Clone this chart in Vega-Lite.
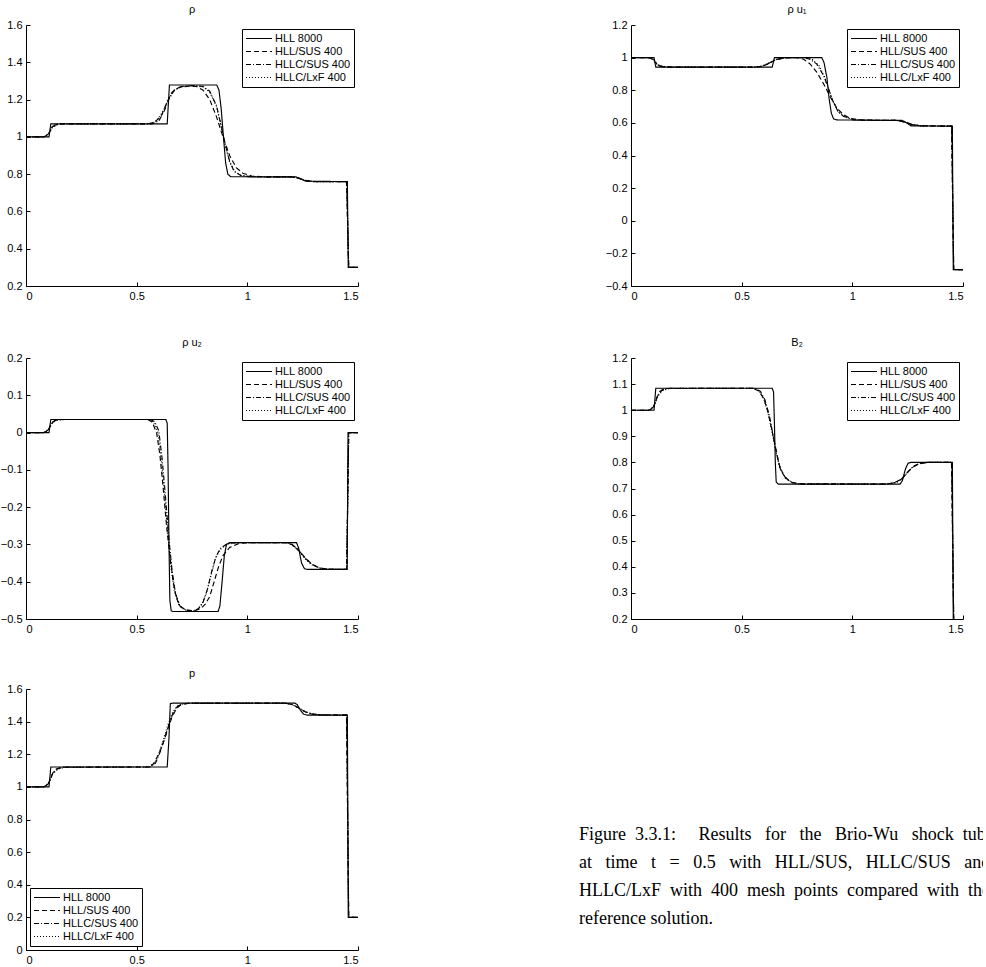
{
"$schema": "https://vega.github.io/schema/vega-lite/v6.json",
"padding": {"left": 0, "top": 4, "right": 0, "bottom": 0},
"config": {
 "view": {"stroke": null},
 "font": "Liberation Sans",
 "numberFormat": "~g",
 "axis": {"domainColor": "black", "tickColor": "black", "labelColor": "black", "labelFontSize": 11, "labelFont": "Liberation Sans", "grid": false, "tickSize": -4, "labelPadding": 8, "domainWidth": 1, "tickWidth": 1},
 "title": {"font": "Liberation Sans", "fontSize": 11, "fontWeight": "normal", "offset": 4, "color": "black"},
 "legend": {"strokeColor": "black", "fillColor": "white", "padding": 3, "labelFont": "Liberation Sans", "labelFontSize": 11, "labelColor": "black", "symbolType": "stroke", "symbolSize": 676, "symbolStrokeWidth": 1.1, "symbolStrokeColor": "black", "clipHeight": 13, "rowPadding": 0, "labelOffset": 2, "offset": 4, "title": null, "cornerRadius": 0},
 "line": {"color": "black", "strokeWidth": 1.15}
},
"datasets": {
"rho": [
{"s":"HLL 8000","x":0,"y":1.0},{"s":"HLL 8000","x":0.104,"y":1.0},{"s":"HLL 8000","x":0.112,"y":1.07},{"s":"HLL 8000","x":0.638,"y":1.07},{"s":"HLL 8000","x":0.648,"y":1.278},{"s":"HLL 8000","x":0.862,"y":1.278},{"s":"HLL 8000","x":0.872,"y":1.25},{"s":"HLL 8000","x":0.882,"y":1.15},{"s":"HLL 8000","x":0.892,"y":1.0},{"s":"HLL 8000","x":0.902,"y":0.86},{"s":"HLL 8000","x":0.912,"y":0.8},{"s":"HLL 8000","x":0.925,"y":0.786},{"s":"HLL 8000","x":1.22,"y":0.785},{"s":"HLL 8000","x":1.24,"y":0.775},{"s":"HLL 8000","x":1.265,"y":0.762},{"s":"HLL 8000","x":1.452,"y":0.76},{"s":"HLL 8000","x":1.456,"y":0.3},{"s":"HLL 8000","x":1.5,"y":0.3},
{"s":"HLL/SUS 400","x":0,"y":1.0},{"s":"HLL/SUS 400","x":0.08,"y":1.0},{"s":"HLL/SUS 400","x":0.1,"y":1.01},{"s":"HLL/SUS 400","x":0.115,"y":1.045},{"s":"HLL/SUS 400","x":0.13,"y":1.063},{"s":"HLL/SUS 400","x":0.16,"y":1.07},{"s":"HLL/SUS 400","x":0.55,"y":1.07},{"s":"HLL/SUS 400","x":0.58,"y":1.078},{"s":"HLL/SUS 400","x":0.61,"y":1.11},{"s":"HLL/SUS 400","x":0.635,"y":1.18},{"s":"HLL/SUS 400","x":0.66,"y":1.24},{"s":"HLL/SUS 400","x":0.69,"y":1.265},{"s":"HLL/SUS 400","x":0.74,"y":1.272},{"s":"HLL/SUS 400","x":0.77,"y":1.27},{"s":"HLL/SUS 400","x":0.8,"y":1.25},{"s":"HLL/SUS 400","x":0.83,"y":1.2},{"s":"HLL/SUS 400","x":0.86,"y":1.11},{"s":"HLL/SUS 400","x":0.89,"y":1.0},{"s":"HLL/SUS 400","x":0.92,"y":0.9},{"s":"HLL/SUS 400","x":0.95,"y":0.835},{"s":"HLL/SUS 400","x":0.98,"y":0.805},{"s":"HLL/SUS 400","x":1.02,"y":0.79},{"s":"HLL/SUS 400","x":1.08,"y":0.785},{"s":"HLL/SUS 400","x":1.2,"y":0.785},{"s":"HLL/SUS 400","x":1.23,"y":0.78},{"s":"HLL/SUS 400","x":1.26,"y":0.767},{"s":"HLL/SUS 400","x":1.3,"y":0.76},{"s":"HLL/SUS 400","x":1.448,"y":0.76},{"s":"HLL/SUS 400","x":1.458,"y":0.3},{"s":"HLL/SUS 400","x":1.5,"y":0.3},
{"s":"HLLC/SUS 400","x":0,"y":1.0},{"s":"HLLC/SUS 400","x":0.085,"y":1.0},{"s":"HLLC/SUS 400","x":0.105,"y":1.02},{"s":"HLLC/SUS 400","x":0.118,"y":1.055},{"s":"HLLC/SUS 400","x":0.14,"y":1.068},{"s":"HLLC/SUS 400","x":0.17,"y":1.07},{"s":"HLLC/SUS 400","x":0.57,"y":1.07},{"s":"HLLC/SUS 400","x":0.6,"y":1.085},{"s":"HLLC/SUS 400","x":0.625,"y":1.14},{"s":"HLLC/SUS 400","x":0.645,"y":1.2},{"s":"HLLC/SUS 400","x":0.67,"y":1.25},{"s":"HLLC/SUS 400","x":0.7,"y":1.27},{"s":"HLLC/SUS 400","x":0.75,"y":1.275},{"s":"HLLC/SUS 400","x":0.8,"y":1.27},{"s":"HLLC/SUS 400","x":0.83,"y":1.245},{"s":"HLLC/SUS 400","x":0.86,"y":1.17},{"s":"HLLC/SUS 400","x":0.88,"y":1.07},{"s":"HLLC/SUS 400","x":0.9,"y":0.96},{"s":"HLLC/SUS 400","x":0.92,"y":0.87},{"s":"HLLC/SUS 400","x":0.94,"y":0.815},{"s":"HLLC/SUS 400","x":0.97,"y":0.793},{"s":"HLLC/SUS 400","x":1.02,"y":0.786},{"s":"HLLC/SUS 400","x":1.2,"y":0.785},{"s":"HLLC/SUS 400","x":1.23,"y":0.779},{"s":"HLLC/SUS 400","x":1.26,"y":0.766},{"s":"HLLC/SUS 400","x":1.3,"y":0.76},{"s":"HLLC/SUS 400","x":1.449,"y":0.76},{"s":"HLLC/SUS 400","x":1.458,"y":0.3},{"s":"HLLC/SUS 400","x":1.5,"y":0.3},
{"s":"HLLC/LxF 400","x":0,"y":1.0},{"s":"HLLC/LxF 400","x":0.08,"y":1.0},{"s":"HLLC/LxF 400","x":0.1,"y":1.015},{"s":"HLLC/LxF 400","x":0.12,"y":1.05},{"s":"HLLC/LxF 400","x":0.145,"y":1.067},{"s":"HLLC/LxF 400","x":0.18,"y":1.07},{"s":"HLLC/LxF 400","x":0.56,"y":1.07},{"s":"HLLC/LxF 400","x":0.59,"y":1.085},{"s":"HLLC/LxF 400","x":0.62,"y":1.14},{"s":"HLLC/LxF 400","x":0.645,"y":1.205},{"s":"HLLC/LxF 400","x":0.67,"y":1.25},{"s":"HLLC/LxF 400","x":0.7,"y":1.268},{"s":"HLLC/LxF 400","x":0.75,"y":1.275},{"s":"HLLC/LxF 400","x":0.8,"y":1.268},{"s":"HLLC/LxF 400","x":0.83,"y":1.24},{"s":"HLLC/LxF 400","x":0.86,"y":1.165},{"s":"HLLC/LxF 400","x":0.88,"y":1.065},{"s":"HLLC/LxF 400","x":0.9,"y":0.955},{"s":"HLLC/LxF 400","x":0.92,"y":0.865},{"s":"HLLC/LxF 400","x":0.945,"y":0.812},{"s":"HLLC/LxF 400","x":0.975,"y":0.792},{"s":"HLLC/LxF 400","x":1.02,"y":0.786},{"s":"HLLC/LxF 400","x":1.2,"y":0.785},{"s":"HLLC/LxF 400","x":1.23,"y":0.778},{"s":"HLLC/LxF 400","x":1.265,"y":0.765},{"s":"HLLC/LxF 400","x":1.31,"y":0.76},{"s":"HLLC/LxF 400","x":1.449,"y":0.76},{"s":"HLLC/LxF 400","x":1.458,"y":0.3},{"s":"HLLC/LxF 400","x":1.5,"y":0.3}
],
"rhou1": [
{"s":"HLL 8000","x":0,"y":1.0},{"s":"HLL 8000","x":0.104,"y":1.0},{"s":"HLL 8000","x":0.112,"y":0.942},{"s":"HLL 8000","x":0.638,"y":0.942},{"s":"HLL 8000","x":0.648,"y":1.0},{"s":"HLL 8000","x":0.862,"y":1.0},{"s":"HLL 8000","x":0.872,"y":0.97},{"s":"HLL 8000","x":0.885,"y":0.88},{"s":"HLL 8000","x":0.895,"y":0.75},{"s":"HLL 8000","x":0.905,"y":0.66},{"s":"HLL 8000","x":0.915,"y":0.625},{"s":"HLL 8000","x":0.93,"y":0.618},{"s":"HLL 8000","x":1.225,"y":0.615},{"s":"HLL 8000","x":1.245,"y":0.6},{"s":"HLL 8000","x":1.265,"y":0.582},{"s":"HLL 8000","x":1.452,"y":0.58},{"s":"HLL 8000","x":1.456,"y":-0.3},{"s":"HLL 8000","x":1.5,"y":-0.3},
{"s":"HLL/SUS 400","x":0,"y":1.0},{"s":"HLL/SUS 400","x":0.08,"y":1.0},{"s":"HLL/SUS 400","x":0.1,"y":0.99},{"s":"HLL/SUS 400","x":0.115,"y":0.962},{"s":"HLL/SUS 400","x":0.13,"y":0.948},{"s":"HLL/SUS 400","x":0.16,"y":0.942},{"s":"HLL/SUS 400","x":0.56,"y":0.942},{"s":"HLL/SUS 400","x":0.59,"y":0.946},{"s":"HLL/SUS 400","x":0.62,"y":0.962},{"s":"HLL/SUS 400","x":0.65,"y":0.985},{"s":"HLL/SUS 400","x":0.69,"y":0.998},{"s":"HLL/SUS 400","x":0.75,"y":1.0},{"s":"HLL/SUS 400","x":0.78,"y":0.99},{"s":"HLL/SUS 400","x":0.81,"y":0.96},{"s":"HLL/SUS 400","x":0.84,"y":0.91},{"s":"HLL/SUS 400","x":0.87,"y":0.84},{"s":"HLL/SUS 400","x":0.9,"y":0.76},{"s":"HLL/SUS 400","x":0.93,"y":0.69},{"s":"HLL/SUS 400","x":0.96,"y":0.65},{"s":"HLL/SUS 400","x":0.99,"y":0.628},{"s":"HLL/SUS 400","x":1.04,"y":0.618},{"s":"HLL/SUS 400","x":1.2,"y":0.615},{"s":"HLL/SUS 400","x":1.24,"y":0.605},{"s":"HLL/SUS 400","x":1.27,"y":0.59},{"s":"HLL/SUS 400","x":1.31,"y":0.582},{"s":"HLL/SUS 400","x":1.448,"y":0.58},{"s":"HLL/SUS 400","x":1.458,"y":-0.3},{"s":"HLL/SUS 400","x":1.5,"y":-0.3},
{"s":"HLLC/SUS 400","x":0,"y":1.0},{"s":"HLLC/SUS 400","x":0.085,"y":1.0},{"s":"HLLC/SUS 400","x":0.105,"y":0.985},{"s":"HLLC/SUS 400","x":0.12,"y":0.955},{"s":"HLLC/SUS 400","x":0.14,"y":0.945},{"s":"HLLC/SUS 400","x":0.17,"y":0.942},{"s":"HLLC/SUS 400","x":0.57,"y":0.942},{"s":"HLLC/SUS 400","x":0.6,"y":0.95},{"s":"HLLC/SUS 400","x":0.63,"y":0.97},{"s":"HLLC/SUS 400","x":0.66,"y":0.99},{"s":"HLLC/SUS 400","x":0.7,"y":0.999},{"s":"HLLC/SUS 400","x":0.78,"y":1.0},{"s":"HLLC/SUS 400","x":0.81,"y":0.99},{"s":"HLLC/SUS 400","x":0.84,"y":0.96},{"s":"HLLC/SUS 400","x":0.87,"y":0.89},{"s":"HLLC/SUS 400","x":0.89,"y":0.82},{"s":"HLLC/SUS 400","x":0.91,"y":0.74},{"s":"HLLC/SUS 400","x":0.935,"y":0.67},{"s":"HLLC/SUS 400","x":0.96,"y":0.64},{"s":"HLLC/SUS 400","x":1.0,"y":0.622},{"s":"HLLC/SUS 400","x":1.05,"y":0.616},{"s":"HLLC/SUS 400","x":1.2,"y":0.615},{"s":"HLLC/SUS 400","x":1.24,"y":0.604},{"s":"HLLC/SUS 400","x":1.27,"y":0.589},{"s":"HLLC/SUS 400","x":1.31,"y":0.581},{"s":"HLLC/SUS 400","x":1.449,"y":0.58},{"s":"HLLC/SUS 400","x":1.458,"y":-0.3},{"s":"HLLC/SUS 400","x":1.5,"y":-0.3},
{"s":"HLLC/LxF 400","x":0,"y":1.0},{"s":"HLLC/LxF 400","x":0.08,"y":1.0},{"s":"HLLC/LxF 400","x":0.1,"y":0.988},{"s":"HLLC/LxF 400","x":0.12,"y":0.958},{"s":"HLLC/LxF 400","x":0.145,"y":0.946},{"s":"HLLC/LxF 400","x":0.18,"y":0.942},{"s":"HLLC/LxF 400","x":0.56,"y":0.942},{"s":"HLLC/LxF 400","x":0.59,"y":0.948},{"s":"HLLC/LxF 400","x":0.62,"y":0.966},{"s":"HLLC/LxF 400","x":0.65,"y":0.987},{"s":"HLLC/LxF 400","x":0.69,"y":0.998},{"s":"HLLC/LxF 400","x":0.79,"y":1.0},{"s":"HLLC/LxF 400","x":0.82,"y":0.988},{"s":"HLLC/LxF 400","x":0.85,"y":0.95},{"s":"HLLC/LxF 400","x":0.875,"y":0.88},{"s":"HLLC/LxF 400","x":0.895,"y":0.8},{"s":"HLLC/LxF 400","x":0.915,"y":0.725},{"s":"HLLC/LxF 400","x":0.94,"y":0.665},{"s":"HLLC/LxF 400","x":0.965,"y":0.637},{"s":"HLLC/LxF 400","x":1.0,"y":0.622},{"s":"HLLC/LxF 400","x":1.05,"y":0.616},{"s":"HLLC/LxF 400","x":1.2,"y":0.615},{"s":"HLLC/LxF 400","x":1.24,"y":0.603},{"s":"HLLC/LxF 400","x":1.275,"y":0.587},{"s":"HLLC/LxF 400","x":1.32,"y":0.581},{"s":"HLLC/LxF 400","x":1.449,"y":0.58},{"s":"HLLC/LxF 400","x":1.458,"y":-0.3},{"s":"HLLC/LxF 400","x":1.5,"y":-0.3}
],
"rhou2": [
{"s":"HLL 8000","x":0,"y":0},{"s":"HLL 8000","x":0.104,"y":0},{"s":"HLL 8000","x":0.112,"y":0.035},{"s":"HLL 8000","x":0.632,"y":0.035},{"s":"HLL 8000","x":0.638,"y":0.025},{"s":"HLL 8000","x":0.642,"y":-0.1},{"s":"HLL 8000","x":0.646,"y":-0.3},{"s":"HLL 8000","x":0.65,"y":-0.45},{"s":"HLL 8000","x":0.656,"y":-0.478},{"s":"HLL 8000","x":0.665,"y":-0.48},{"s":"HLL 8000","x":0.868,"y":-0.48},{"s":"HLL 8000","x":0.876,"y":-0.465},{"s":"HLL 8000","x":0.886,"y":-0.4},{"s":"HLL 8000","x":0.896,"y":-0.33},{"s":"HLL 8000","x":0.906,"y":-0.3},{"s":"HLL 8000","x":0.92,"y":-0.295},{"s":"HLL 8000","x":1.222,"y":-0.295},{"s":"HLL 8000","x":1.232,"y":-0.31},{"s":"HLL 8000","x":1.245,"y":-0.35},{"s":"HLL 8000","x":1.258,"y":-0.365},{"s":"HLL 8000","x":1.27,"y":-0.367},{"s":"HLL 8000","x":1.451,"y":-0.367},{"s":"HLL 8000","x":1.455,"y":0},{"s":"HLL 8000","x":1.5,"y":0},
{"s":"HLL/SUS 400","x":0,"y":0},{"s":"HLL/SUS 400","x":0.08,"y":0},{"s":"HLL/SUS 400","x":0.1,"y":0.005},{"s":"HLL/SUS 400","x":0.115,"y":0.025},{"s":"HLL/SUS 400","x":0.13,"y":0.032},{"s":"HLL/SUS 400","x":0.16,"y":0.035},{"s":"HLL/SUS 400","x":0.55,"y":0.035},{"s":"HLL/SUS 400","x":0.57,"y":0.028},{"s":"HLL/SUS 400","x":0.59,"y":0.0},{"s":"HLL/SUS 400","x":0.605,"y":-0.06},{"s":"HLL/SUS 400","x":0.62,"y":-0.15},{"s":"HLL/SUS 400","x":0.635,"y":-0.25},{"s":"HLL/SUS 400","x":0.65,"y":-0.33},{"s":"HLL/SUS 400","x":0.665,"y":-0.4},{"s":"HLL/SUS 400","x":0.68,"y":-0.445},{"s":"HLL/SUS 400","x":0.7,"y":-0.468},{"s":"HLL/SUS 400","x":0.73,"y":-0.477},{"s":"HLL/SUS 400","x":0.76,"y":-0.478},{"s":"HLL/SUS 400","x":0.79,"y":-0.472},{"s":"HLL/SUS 400","x":0.81,"y":-0.46},{"s":"HLL/SUS 400","x":0.83,"y":-0.44},{"s":"HLL/SUS 400","x":0.85,"y":-0.4},{"s":"HLL/SUS 400","x":0.87,"y":-0.36},{"s":"HLL/SUS 400","x":0.89,"y":-0.33},{"s":"HLL/SUS 400","x":0.92,"y":-0.308},{"s":"HLL/SUS 400","x":0.96,"y":-0.298},{"s":"HLL/SUS 400","x":1.0,"y":-0.295},{"s":"HLL/SUS 400","x":1.17,"y":-0.295},{"s":"HLL/SUS 400","x":1.2,"y":-0.3},{"s":"HLL/SUS 400","x":1.23,"y":-0.315},{"s":"HLL/SUS 400","x":1.26,"y":-0.335},{"s":"HLL/SUS 400","x":1.29,"y":-0.352},{"s":"HLL/SUS 400","x":1.32,"y":-0.362},{"s":"HLL/SUS 400","x":1.36,"y":-0.366},{"s":"HLL/SUS 400","x":1.449,"y":-0.367},{"s":"HLL/SUS 400","x":1.458,"y":0},{"s":"HLL/SUS 400","x":1.5,"y":0},
{"s":"HLLC/SUS 400","x":0,"y":0},{"s":"HLLC/SUS 400","x":0.085,"y":0},{"s":"HLLC/SUS 400","x":0.105,"y":0.01},{"s":"HLLC/SUS 400","x":0.12,"y":0.028},{"s":"HLLC/SUS 400","x":0.14,"y":0.034},{"s":"HLLC/SUS 400","x":0.17,"y":0.035},{"s":"HLLC/SUS 400","x":0.56,"y":0.035},{"s":"HLLC/SUS 400","x":0.58,"y":0.03},{"s":"HLLC/SUS 400","x":0.6,"y":0.005},{"s":"HLLC/SUS 400","x":0.615,"y":-0.07},{"s":"HLLC/SUS 400","x":0.63,"y":-0.17},{"s":"HLLC/SUS 400","x":0.645,"y":-0.28},{"s":"HLLC/SUS 400","x":0.66,"y":-0.37},{"s":"HLLC/SUS 400","x":0.675,"y":-0.43},{"s":"HLLC/SUS 400","x":0.695,"y":-0.465},{"s":"HLLC/SUS 400","x":0.72,"y":-0.476},{"s":"HLLC/SUS 400","x":0.76,"y":-0.478},{"s":"HLLC/SUS 400","x":0.78,"y":-0.472},{"s":"HLLC/SUS 400","x":0.8,"y":-0.455},{"s":"HLLC/SUS 400","x":0.82,"y":-0.42},{"s":"HLLC/SUS 400","x":0.84,"y":-0.37},{"s":"HLLC/SUS 400","x":0.86,"y":-0.33},{"s":"HLLC/SUS 400","x":0.88,"y":-0.31},{"s":"HLLC/SUS 400","x":0.91,"y":-0.298},{"s":"HLLC/SUS 400","x":0.95,"y":-0.295},{"s":"HLLC/SUS 400","x":1.17,"y":-0.295},{"s":"HLLC/SUS 400","x":1.2,"y":-0.299},{"s":"HLLC/SUS 400","x":1.23,"y":-0.314},{"s":"HLLC/SUS 400","x":1.26,"y":-0.336},{"s":"HLLC/SUS 400","x":1.29,"y":-0.353},{"s":"HLLC/SUS 400","x":1.33,"y":-0.364},{"s":"HLLC/SUS 400","x":1.37,"y":-0.367},{"s":"HLLC/SUS 400","x":1.449,"y":-0.367},{"s":"HLLC/SUS 400","x":1.458,"y":0},{"s":"HLLC/SUS 400","x":1.5,"y":0},
{"s":"HLLC/LxF 400","x":0,"y":0},{"s":"HLLC/LxF 400","x":0.08,"y":0},{"s":"HLLC/LxF 400","x":0.1,"y":0.008},{"s":"HLLC/LxF 400","x":0.12,"y":0.027},{"s":"HLLC/LxF 400","x":0.145,"y":0.034},{"s":"HLLC/LxF 400","x":0.18,"y":0.035},{"s":"HLLC/LxF 400","x":0.555,"y":0.035},{"s":"HLLC/LxF 400","x":0.575,"y":0.029},{"s":"HLLC/LxF 400","x":0.595,"y":0.002},{"s":"HLLC/LxF 400","x":0.61,"y":-0.065},{"s":"HLLC/LxF 400","x":0.625,"y":-0.16},{"s":"HLLC/LxF 400","x":0.64,"y":-0.27},{"s":"HLLC/LxF 400","x":0.655,"y":-0.36},{"s":"HLLC/LxF 400","x":0.67,"y":-0.425},{"s":"HLLC/LxF 400","x":0.69,"y":-0.462},{"s":"HLLC/LxF 400","x":0.715,"y":-0.475},{"s":"HLLC/LxF 400","x":0.75,"y":-0.479},{"s":"HLLC/LxF 400","x":0.775,"y":-0.474},{"s":"HLLC/LxF 400","x":0.795,"y":-0.46},{"s":"HLLC/LxF 400","x":0.815,"y":-0.43},{"s":"HLLC/LxF 400","x":0.835,"y":-0.385},{"s":"HLLC/LxF 400","x":0.855,"y":-0.34},{"s":"HLLC/LxF 400","x":0.875,"y":-0.315},{"s":"HLLC/LxF 400","x":0.905,"y":-0.3},{"s":"HLLC/LxF 400","x":0.95,"y":-0.295},{"s":"HLLC/LxF 400","x":1.17,"y":-0.295},{"s":"HLLC/LxF 400","x":1.2,"y":-0.3},{"s":"HLLC/LxF 400","x":1.23,"y":-0.316},{"s":"HLLC/LxF 400","x":1.26,"y":-0.338},{"s":"HLLC/LxF 400","x":1.29,"y":-0.354},{"s":"HLLC/LxF 400","x":1.33,"y":-0.364},{"s":"HLLC/LxF 400","x":1.37,"y":-0.367},{"s":"HLLC/LxF 400","x":1.449,"y":-0.367},{"s":"HLLC/LxF 400","x":1.458,"y":0},{"s":"HLLC/LxF 400","x":1.5,"y":0}
],
"b2": [
{"s":"HLL 8000","x":0,"y":1.0},{"s":"HLL 8000","x":0.104,"y":1.0},{"s":"HLL 8000","x":0.112,"y":1.084},{"s":"HLL 8000","x":0.638,"y":1.084},{"s":"HLL 8000","x":0.644,"y":1.07},{"s":"HLL 8000","x":0.648,"y":0.95},{"s":"HLL 8000","x":0.652,"y":0.8},{"s":"HLL 8000","x":0.656,"y":0.725},{"s":"HLL 8000","x":0.665,"y":0.717},{"s":"HLL 8000","x":1.216,"y":0.717},{"s":"HLL 8000","x":1.226,"y":0.73},{"s":"HLL 8000","x":1.24,"y":0.775},{"s":"HLL 8000","x":1.252,"y":0.797},{"s":"HLL 8000","x":1.265,"y":0.8},{"s":"HLL 8000","x":1.452,"y":0.8},{"s":"HLL 8000","x":1.456,"y":0.2},
{"s":"HLL/SUS 400","x":0,"y":1.0},{"s":"HLL/SUS 400","x":0.08,"y":1.0},{"s":"HLL/SUS 400","x":0.1,"y":1.008},{"s":"HLL/SUS 400","x":0.115,"y":1.045},{"s":"HLL/SUS 400","x":0.13,"y":1.072},{"s":"HLL/SUS 400","x":0.16,"y":1.083},{"s":"HLL/SUS 400","x":0.55,"y":1.084},{"s":"HLL/SUS 400","x":0.575,"y":1.075},{"s":"HLL/SUS 400","x":0.6,"y":1.045},{"s":"HLL/SUS 400","x":0.62,"y":0.99},{"s":"HLL/SUS 400","x":0.64,"y":0.91},{"s":"HLL/SUS 400","x":0.655,"y":0.85},{"s":"HLL/SUS 400","x":0.67,"y":0.79},{"s":"HLL/SUS 400","x":0.69,"y":0.75},{"s":"HLL/SUS 400","x":0.72,"y":0.725},{"s":"HLL/SUS 400","x":0.76,"y":0.718},{"s":"HLL/SUS 400","x":1.15,"y":0.717},{"s":"HLL/SUS 400","x":1.19,"y":0.722},{"s":"HLL/SUS 400","x":1.22,"y":0.735},{"s":"HLL/SUS 400","x":1.245,"y":0.758},{"s":"HLL/SUS 400","x":1.27,"y":0.78},{"s":"HLL/SUS 400","x":1.3,"y":0.794},{"s":"HLL/SUS 400","x":1.34,"y":0.8},{"s":"HLL/SUS 400","x":1.448,"y":0.8},{"s":"HLL/SUS 400","x":1.458,"y":0.2},
{"s":"HLLC/SUS 400","x":0,"y":1.0},{"s":"HLLC/SUS 400","x":0.085,"y":1.0},{"s":"HLLC/SUS 400","x":0.105,"y":1.015},{"s":"HLLC/SUS 400","x":0.12,"y":1.055},{"s":"HLLC/SUS 400","x":0.14,"y":1.078},{"s":"HLLC/SUS 400","x":0.17,"y":1.084},{"s":"HLLC/SUS 400","x":0.56,"y":1.084},{"s":"HLLC/SUS 400","x":0.585,"y":1.072},{"s":"HLLC/SUS 400","x":0.605,"y":1.04},{"s":"HLLC/SUS 400","x":0.625,"y":0.98},{"s":"HLLC/SUS 400","x":0.643,"y":0.9},{"s":"HLLC/SUS 400","x":0.658,"y":0.83},{"s":"HLLC/SUS 400","x":0.675,"y":0.775},{"s":"HLLC/SUS 400","x":0.7,"y":0.738},{"s":"HLLC/SUS 400","x":0.73,"y":0.722},{"s":"HLLC/SUS 400","x":0.77,"y":0.717},{"s":"HLLC/SUS 400","x":1.16,"y":0.717},{"s":"HLLC/SUS 400","x":1.2,"y":0.724},{"s":"HLLC/SUS 400","x":1.225,"y":0.738},{"s":"HLLC/SUS 400","x":1.25,"y":0.763},{"s":"HLLC/SUS 400","x":1.275,"y":0.785},{"s":"HLLC/SUS 400","x":1.305,"y":0.797},{"s":"HLLC/SUS 400","x":1.34,"y":0.8},{"s":"HLLC/SUS 400","x":1.449,"y":0.8},{"s":"HLLC/SUS 400","x":1.458,"y":0.2},
{"s":"HLLC/LxF 400","x":0,"y":1.0},{"s":"HLLC/LxF 400","x":0.08,"y":1.0},{"s":"HLLC/LxF 400","x":0.1,"y":1.012},{"s":"HLLC/LxF 400","x":0.12,"y":1.052},{"s":"HLLC/LxF 400","x":0.145,"y":1.077},{"s":"HLLC/LxF 400","x":0.18,"y":1.084},{"s":"HLLC/LxF 400","x":0.555,"y":1.084},{"s":"HLLC/LxF 400","x":0.58,"y":1.073},{"s":"HLLC/LxF 400","x":0.6,"y":1.043},{"s":"HLLC/LxF 400","x":0.62,"y":0.985},{"s":"HLLC/LxF 400","x":0.64,"y":0.905},{"s":"HLLC/LxF 400","x":0.655,"y":0.84},{"s":"HLLC/LxF 400","x":0.672,"y":0.78},{"s":"HLLC/LxF 400","x":0.697,"y":0.74},{"s":"HLLC/LxF 400","x":0.73,"y":0.722},{"s":"HLLC/LxF 400","x":0.77,"y":0.717},{"s":"HLLC/LxF 400","x":1.16,"y":0.717},{"s":"HLLC/LxF 400","x":1.2,"y":0.723},{"s":"HLLC/LxF 400","x":1.225,"y":0.737},{"s":"HLLC/LxF 400","x":1.25,"y":0.762},{"s":"HLLC/LxF 400","x":1.275,"y":0.784},{"s":"HLLC/LxF 400","x":1.305,"y":0.796},{"s":"HLLC/LxF 400","x":1.34,"y":0.8},{"s":"HLLC/LxF 400","x":1.449,"y":0.8},{"s":"HLLC/LxF 400","x":1.458,"y":0.2}
],
"p": [
{"s":"HLL 8000","x":0,"y":1.0},{"s":"HLL 8000","x":0.104,"y":1.0},{"s":"HLL 8000","x":0.112,"y":1.122},{"s":"HLL 8000","x":0.638,"y":1.122},{"s":"HLL 8000","x":0.646,"y":1.3},{"s":"HLL 8000","x":0.652,"y":1.51},{"s":"HLL 8000","x":0.662,"y":1.513},{"s":"HLL 8000","x":1.215,"y":1.513},{"s":"HLL 8000","x":1.225,"y":1.505},{"s":"HLL 8000","x":1.24,"y":1.47},{"s":"HLL 8000","x":1.255,"y":1.445},{"s":"HLL 8000","x":1.27,"y":1.44},{"s":"HLL 8000","x":1.452,"y":1.44},{"s":"HLL 8000","x":1.456,"y":0.2},{"s":"HLL 8000","x":1.5,"y":0.2},
{"s":"HLL/SUS 400","x":0,"y":1.0},{"s":"HLL/SUS 400","x":0.08,"y":1.0},{"s":"HLL/SUS 400","x":0.1,"y":1.015},{"s":"HLL/SUS 400","x":0.115,"y":1.07},{"s":"HLL/SUS 400","x":0.13,"y":1.105},{"s":"HLL/SUS 400","x":0.16,"y":1.12},{"s":"HLL/SUS 400","x":0.55,"y":1.122},{"s":"HLL/SUS 400","x":0.575,"y":1.14},{"s":"HLL/SUS 400","x":0.6,"y":1.2},{"s":"HLL/SUS 400","x":0.62,"y":1.27},{"s":"HLL/SUS 400","x":0.64,"y":1.35},{"s":"HLL/SUS 400","x":0.66,"y":1.43},{"s":"HLL/SUS 400","x":0.68,"y":1.48},{"s":"HLL/SUS 400","x":0.7,"y":1.503},{"s":"HLL/SUS 400","x":0.73,"y":1.512},{"s":"HLL/SUS 400","x":1.17,"y":1.513},{"s":"HLL/SUS 400","x":1.2,"y":1.505},{"s":"HLL/SUS 400","x":1.23,"y":1.485},{"s":"HLL/SUS 400","x":1.26,"y":1.46},{"s":"HLL/SUS 400","x":1.29,"y":1.447},{"s":"HLL/SUS 400","x":1.33,"y":1.441},{"s":"HLL/SUS 400","x":1.448,"y":1.44},{"s":"HLL/SUS 400","x":1.458,"y":0.2},{"s":"HLL/SUS 400","x":1.5,"y":0.2},
{"s":"HLLC/SUS 400","x":0,"y":1.0},{"s":"HLLC/SUS 400","x":0.085,"y":1.0},{"s":"HLLC/SUS 400","x":0.105,"y":1.025},{"s":"HLLC/SUS 400","x":0.12,"y":1.08},{"s":"HLLC/SUS 400","x":0.14,"y":1.11},{"s":"HLLC/SUS 400","x":0.17,"y":1.121},{"s":"HLLC/SUS 400","x":0.56,"y":1.122},{"s":"HLLC/SUS 400","x":0.585,"y":1.145},{"s":"HLLC/SUS 400","x":0.605,"y":1.21},{"s":"HLLC/SUS 400","x":0.625,"y":1.29},{"s":"HLLC/SUS 400","x":0.645,"y":1.38},{"s":"HLLC/SUS 400","x":0.665,"y":1.455},{"s":"HLLC/SUS 400","x":0.685,"y":1.495},{"s":"HLLC/SUS 400","x":0.71,"y":1.51},{"s":"HLLC/SUS 400","x":0.74,"y":1.513},{"s":"HLLC/SUS 400","x":1.17,"y":1.513},{"s":"HLLC/SUS 400","x":1.2,"y":1.506},{"s":"HLLC/SUS 400","x":1.23,"y":1.487},{"s":"HLLC/SUS 400","x":1.26,"y":1.462},{"s":"HLLC/SUS 400","x":1.29,"y":1.448},{"s":"HLLC/SUS 400","x":1.33,"y":1.441},{"s":"HLLC/SUS 400","x":1.449,"y":1.44},{"s":"HLLC/SUS 400","x":1.458,"y":0.2},{"s":"HLLC/SUS 400","x":1.5,"y":0.2},
{"s":"HLLC/LxF 400","x":0,"y":1.0},{"s":"HLLC/LxF 400","x":0.08,"y":1.0},{"s":"HLLC/LxF 400","x":0.1,"y":1.02},{"s":"HLLC/LxF 400","x":0.12,"y":1.078},{"s":"HLLC/LxF 400","x":0.145,"y":1.11},{"s":"HLLC/LxF 400","x":0.18,"y":1.121},{"s":"HLLC/LxF 400","x":0.555,"y":1.122},{"s":"HLLC/LxF 400","x":0.58,"y":1.142},{"s":"HLLC/LxF 400","x":0.6,"y":1.205},{"s":"HLLC/LxF 400","x":0.62,"y":1.285},{"s":"HLLC/LxF 400","x":0.64,"y":1.375},{"s":"HLLC/LxF 400","x":0.66,"y":1.45},{"s":"HLLC/LxF 400","x":0.68,"y":1.492},{"s":"HLLC/LxF 400","x":0.705,"y":1.509},{"s":"HLLC/LxF 400","x":0.74,"y":1.513},{"s":"HLLC/LxF 400","x":1.17,"y":1.513},{"s":"HLLC/LxF 400","x":1.2,"y":1.505},{"s":"HLLC/LxF 400","x":1.23,"y":1.486},{"s":"HLLC/LxF 400","x":1.26,"y":1.461},{"s":"HLLC/LxF 400","x":1.29,"y":1.448},{"s":"HLLC/LxF 400","x":1.33,"y":1.441},{"s":"HLLC/LxF 400","x":1.449,"y":1.44},{"s":"HLLC/LxF 400","x":1.458,"y":0.2},{"s":"HLLC/LxF 400","x":1.5,"y":0.2}
],
"caption": [
{"line": 1, "text": "Figure\u00a0\u00a03.3.1:\u00a0\u00a0\u00a0\u00a0\u00a0Results\u00a0\u00a0\u00a0for\u00a0\u00a0\u00a0the\u00a0\u00a0\u00a0Brio-Wu\u00a0\u00a0\u00a0shock\u00a0\u00a0tube"},
{"line": 2, "text": "at\u00a0\u00a0\u00a0time\u00a0\u00a0\u00a0t\u00a0\u00a0\u00a0=\u00a0\u00a0\u00a00.5\u00a0\u00a0\u00a0with\u00a0\u00a0\u00a0HLL/SUS,\u00a0\u00a0\u00a0HLLC/SUS\u00a0\u00a0\u00a0and"},
{"line": 3, "text": "HLLC/LxF\u00a0\u00a0with\u00a0\u00a0400\u00a0\u00a0mesh\u00a0\u00a0points\u00a0\u00a0compared\u00a0\u00a0with\u00a0\u00a0the"},
{"line": 4, "text": "reference solution."}
]
},
"vconcat": [
{"hconcat": [
 {"width": 332, "height": 261, "title": "ρ", "data": {"name": "rho"}, "mark": {"type": "line", "clip": true},
  "encoding": {
   "x": {"field": "x", "type": "quantitative", "title": null, "scale": {"domain": [0, 1.5], "nice": false}, "axis": {"values": [0, 0.5, 1, 1.5]}},
   "y": {"field": "y", "type": "quantitative", "title": null, "scale": {"domain": [0.2, 1.6], "nice": false, "zero": false}, "axis": {"values": [0.2, 0.4, 0.6, 0.8, 1, 1.2, 1.4, 1.6]}},
   "strokeDash": {"field": "s", "type": "nominal", "scale": {"domain": ["HLL 8000", "HLL/SUS 400", "HLLC/SUS 400", "HLLC/LxF 400"], "range": [[1, 0], [5, 3], [5, 2, 1, 2], [1, 2]]}, "legend": {"orient": "top-right"}}
  }},
 {"width": 332, "height": 261, "title": "ρ u₁", "data": {"name": "rhou1"}, "mark": {"type": "line", "clip": true},
  "encoding": {
   "x": {"field": "x", "type": "quantitative", "title": null, "scale": {"domain": [0, 1.5], "nice": false}, "axis": {"values": [0, 0.5, 1, 1.5]}},
   "y": {"field": "y", "type": "quantitative", "title": null, "scale": {"domain": [-0.4, 1.2], "nice": false, "zero": false}, "axis": {"values": [-0.4, -0.2, 0, 0.2, 0.4, 0.6, 0.8, 1, 1.2]}},
   "strokeDash": {"field": "s", "type": "nominal", "scale": {"domain": ["HLL 8000", "HLL/SUS 400", "HLLC/SUS 400", "HLLC/LxF 400"], "range": [[1, 0], [5, 3], [5, 2, 1, 2], [1, 2]]}, "legend": {"orient": "top-right"}}
  }}
 ], "spacing": 273, "bounds": "flush",
 "resolve": {"scale": {"strokeDash": "independent"}, "legend": {"strokeDash": "independent"}}},
{"vconcat": [
{"hconcat": [
 {"width": 332, "height": 261, "title": "ρ u₂", "data": {"name": "rhou2"}, "mark": {"type": "line", "clip": true},
  "encoding": {
   "x": {"field": "x", "type": "quantitative", "title": null, "scale": {"domain": [0, 1.5], "nice": false}, "axis": {"values": [0, 0.5, 1, 1.5]}},
   "y": {"field": "y", "type": "quantitative", "title": null, "scale": {"domain": [-0.5, 0.2], "nice": false, "zero": false}, "axis": {"values": [-0.5, -0.4, -0.3, -0.2, -0.1, 0, 0.1, 0.2]}},
   "strokeDash": {"field": "s", "type": "nominal", "scale": {"domain": ["HLL 8000", "HLL/SUS 400", "HLLC/SUS 400", "HLLC/LxF 400"], "range": [[1, 0], [5, 3], [5, 2, 1, 2], [1, 2]]}, "legend": {"orient": "top-right"}}
  }},
 {"width": 332, "height": 261, "title": "B₂", "data": {"name": "b2"}, "mark": {"type": "line", "clip": true},
  "encoding": {
   "x": {"field": "x", "type": "quantitative", "title": null, "scale": {"domain": [0, 1.5], "nice": false}, "axis": {"values": [0, 0.5, 1, 1.5]}},
   "y": {"field": "y", "type": "quantitative", "title": null, "scale": {"domain": [0.2, 1.2], "nice": false, "zero": false}, "axis": {"values": [0.2, 0.3, 0.4, 0.5, 0.6, 0.7, 0.8, 0.9, 1, 1.1, 1.2]}},
   "strokeDash": {"field": "s", "type": "nominal", "scale": {"domain": ["HLL 8000", "HLL/SUS 400", "HLLC/SUS 400", "HLLC/LxF 400"], "range": [[1, 0], [5, 3], [5, 2, 1, 2], [1, 2]]}, "legend": {"orient": "top-right"}}
  }}
 ], "spacing": 273, "bounds": "flush",
 "resolve": {"scale": {"strokeDash": "independent"}, "legend": {"strokeDash": "independent"}}},
{"hconcat": [
 {"width": 332, "height": 261, "title": "p", "data": {"name": "p"}, "mark": {"type": "line", "clip": true},
  "encoding": {
   "x": {"field": "x", "type": "quantitative", "title": null, "scale": {"domain": [0, 1.5], "nice": false}, "axis": {"values": [0, 0.5, 1, 1.5]}},
   "y": {"field": "y", "type": "quantitative", "title": null, "scale": {"domain": [0, 1.6], "nice": false, "zero": false}, "axis": {"values": [0, 0.2, 0.4, 0.6, 0.8, 1, 1.2, 1.4, 1.6]}},
   "strokeDash": {"field": "s", "type": "nominal", "scale": {"domain": ["HLL 8000", "HLL/SUS 400", "HLLC/SUS 400", "HLLC/LxF 400"], "range": [[1, 0], [5, 3], [5, 2, 1, 2], [1, 2]]}, "legend": {"orient": "bottom-left"}}
  }},
 {"width": 404, "height": 261, "data": {"name": "caption"},
  "mark": {"type": "text", "align": "left", "baseline": "middle", "font": "Liberation Serif", "fontSize": 18, "color": "black", "clip": true},
  "encoding": {
   "x": {"datum": 0, "type": "quantitative", "scale": {"domain": [0, 1]}, "axis": null},
   "y": {"field": "line", "type": "quantitative", "scale": {"domain": [-4.214, 5.107], "reverse": true, "nice": false, "zero": false}, "axis": null},
   "text": {"field": "text", "type": "nominal"}
  }}
 ], "spacing": 221, "bounds": "flush",
 "resolve": {"scale": {"strokeDash": "independent"}, "legend": {"strokeDash": "independent"}}}
], "spacing": 34,
"resolve": {"scale": {"strokeDash": "independent"}, "legend": {"strokeDash": "independent"}}}
],
"spacing": 36,
"resolve": {"scale": {"strokeDash": "independent"}, "legend": {"strokeDash": "independent"}}
}
